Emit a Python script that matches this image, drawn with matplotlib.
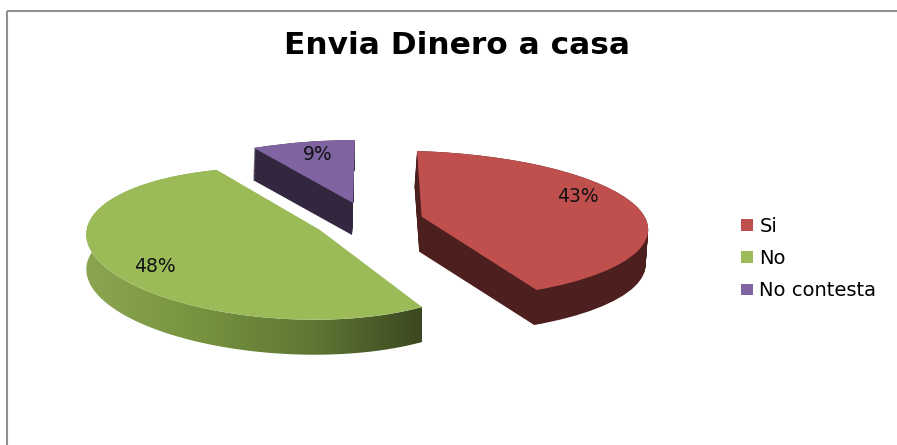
# Envia Dinero a casa - exploded "3D" pie, tilted with one homography per slice

import numpy as np
import matplotlib
matplotlib.use("Agg")
import matplotlib.pyplot as plt
from matplotlib.colors import LinearSegmentedColormap
from matplotlib.patches import Polygon, Rectangle, Wedge
from matplotlib.transforms import Affine2D, Transform

# ---------------------------------------------------------
# DATA
# ---------------------------------------------------------

TITLE = "Envia Dinero a casa"
LABELS = ["Si", "No", "No contesta"]
VALUES = [43, 48, 9]

COLORS = ["#c0504d", "#9bbb59", "#8064a2"]
SIDE_COLORS = ["#4d1f1e", "#6f8a3e", "#33263f"]

# ---------------------------------------------------------
# LAYOUT (pixels of the 897x445 picture, y down)
# apex, first arc end, arc middle, last arc end of every slice
# ---------------------------------------------------------

ANCHORS = [
    [(421.7, 216.7), (417, 151), (635, 205), (536.7, 290)],
    [(320, 230), (422, 307), (104, 266), (217, 170)],
    [(353, 203), (254, 148), (305, 142), (355, 140)],
]
DEPTH = [(-2.5, 35), (0, 35), (-1, 32)]
PCT_POS = [(578, 197), (155, 267), (318, 155)]


class Tilt(Transform):
    input_dims = 2
    output_dims = 2
    is_separable = False
    has_inverse = False

    def __init__(self, H):
        super().__init__()
        self.H = H

    def transform_non_affine(self, values):
        v = np.asarray(values, dtype=float)
        p = np.column_stack([v, np.ones(len(v))]) @ self.H.T
        return p[:, :2] / p[:, 2:]


def fit_homography(src, dst):
    rows, rhs = [], []
    for (x, y), (u, v) in zip(src, dst):
        rows.append([x, y, 1, 0, 0, 0, -u * x, -u * y])
        rows.append([0, 0, 0, x, y, 1, -v * x, -v * y])
        rhs += [u, v]
    h = np.linalg.solve(np.array(rows), np.array(rhs))
    return np.append(h, 1).reshape(3, 3)


def unit(deg):
    return np.cos(np.radians(deg)), np.sin(np.radians(deg))


fig = plt.figure(figsize=(8.97, 4.45), dpi=100, facecolor="white")
ax = fig.add_axes([0, 0, 1, 1])

wedges, _, pct_texts = ax.pie(
    VALUES,
    colors=COLORS,
    startangle=90,
    counterclock=False,
    autopct="%d%%",
    wedgeprops={"linewidth": 0},
)

ax.set_aspect("auto")
ax.set_xlim(0, 897)
ax.set_ylim(445, 0)

# ---------------------------------------------------------
# SLICES
# ---------------------------------------------------------

for i, w in enumerate(wedges):
    # pie gives theta1 < theta2 going the other way round, so the arc starts at theta2
    start, end = w.theta2, w.theta1
    mid = (start + end) / 2
    src = [(0, 0), unit(start), unit(mid), unit(end)]
    tilt = Tilt(fit_homography(src, ANCHORS[i]))

    w.set_transform(tilt + ax.transData)
    w.set_zorder(3)

    dx, dy = DEPTH[i]

    if LABELS[i] == "No":
        # side of the green slice fades from left to right
        th = np.linspace(start, end, 200)
        top = tilt.transform(np.column_stack(unit(th)))
        low = top + [dx, dy]
        outline = np.vstack([top, low[::-1]])
        side_cmap = LinearSegmentedColormap.from_list(
            "side", ["#8ba650", "#76933f", "#5f7835", "#3c4820"]
        )
        img = ax.imshow(
            np.linspace(0, 1, 256)[None, :],
            cmap=side_cmap,
            extent=[outline[:, 0].min(), outline[:, 0].max(),
                    outline[:, 1].max(), outline[:, 1].min()],
            aspect="auto",
            zorder=2,
        )
        clip = Polygon(outline, closed=True, transform=ax.transData)
        img.set_clip_path(clip)
        ax.set_xlim(0, 897)
        ax.set_ylim(445, 0)
    else:
        for k in np.linspace(1, 0, 40):
            shift = Affine2D().translate(dx * k, dy * k)
            ax.add_patch(Wedge(
                (0, 0), 1, w.theta1, w.theta2,
                facecolor=SIDE_COLORS[i],
                linewidth=0,
                transform=tilt + shift + ax.transData,
                zorder=2,
            ))

for t, pos in zip(pct_texts, PCT_POS):
    t.set_position(pos)
    t.set_ha("center")
    t.set_va("center")
    t.set_fontsize(13.5)
    t.set_color("#111111")
    t.set_zorder(5)

# ---------------------------------------------------------
# FRAME, TITLE, LEGEND
# ---------------------------------------------------------

ax.add_patch(Rectangle(
    (7, 11), 1000, 600,
    fill=False,
    edgecolor="#8f8f8f",
    linewidth=1.5,
    zorder=1,
))

ax.text(
    457, 54, TITLE,
    ha="center", va="baseline",
    fontsize=22.5, fontweight="bold",
    color="black",
)

ax.legend(
    wedges, LABELS,
    loc="upper left",
    bbox_to_anchor=(741 / 897, 1 - 217 / 445),
    frameon=False,
    fontsize=14,
    handlelength=0.62,
    handleheight=0.55,
    handletextpad=0.33,
    labelspacing=0.68,
    borderpad=0,
    borderaxespad=0,
)

fig.savefig("out.png", dpi=100)
